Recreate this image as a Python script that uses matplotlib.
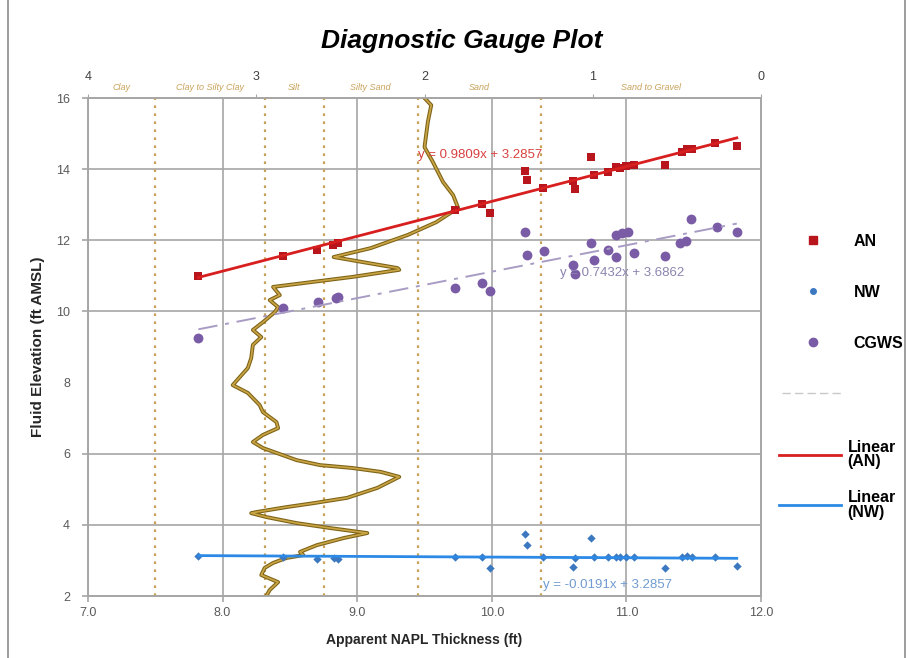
import numpy as np
import matplotlib.pyplot as plt
from matplotlib.lines import Line2D
from matplotlib.patches import Rectangle
from matplotlib.ticker import FormatStrFormatter

plt.rcParams["font.family"] = ["Liberation Sans", "DejaVu Sans"]

# gauge readings: apparent NAPL thickness (ft) against fluid elevation (ft AMSL)
an_thk = [7.82, 8.45, 8.70, 8.82, 8.86, 9.73, 9.93, 9.99, 10.25, 10.26, 10.38, 10.60, 10.62,
          10.74, 10.76, 10.86, 10.92, 10.95, 11.00, 11.06, 11.29, 11.41, 11.45, 11.49, 11.66, 11.82]
an_elev = [11.00, 11.56, 11.73, 11.87, 11.92, 12.85, 13.02, 12.77, 13.95, 13.70, 13.47, 13.67, 13.44,
           14.34, 13.84, 13.92, 14.06, 14.03, 14.09, 14.12, 14.12, 14.48, 14.57, 14.57, 14.74, 14.65]

nw_thk = [7.82, 8.45, 8.70, 8.83, 8.86, 9.73, 9.93, 9.99, 10.25, 10.26, 10.38, 10.60, 10.62,
          10.74, 10.76, 10.86, 10.92, 10.95, 11.00, 11.06, 11.29, 11.41, 11.45, 11.49, 11.66, 11.82]
nw_elev = [3.13, 3.10, 3.04, 3.07, 3.05, 3.10, 3.09, 2.80, 3.73, 3.43, 3.10, 2.82, 3.08,
           3.64, 3.10, 3.10, 3.10, 3.10, 3.10, 3.09, 2.80, 3.10, 3.12, 3.10, 3.09, 2.83]

cgws_thk = [7.82, 8.45, 8.71, 8.84, 8.86, 9.73, 9.93, 9.99, 10.25, 10.26, 10.39, 10.60, 10.62, 10.74,
            10.76, 10.86, 10.92, 10.92, 10.97, 11.01, 11.06, 11.29, 11.40, 11.44, 11.48, 11.67, 11.82]
cgws_elev = [9.25, 10.10, 10.27, 10.38, 10.40, 10.65, 10.80, 10.57, 12.23, 11.59, 11.70, 11.31, 11.05, 11.92,
             11.45, 11.73, 11.53, 12.15, 12.21, 12.23, 11.64, 11.56, 11.92, 11.98, 12.60, 12.37, 12.23]

# linear trendlines (slope, intercept)
an_fit = (0.9809, 3.2857)
cgws_fit = (0.7432, 3.6862)
nw_fit = (-0.0191, 3.2857)

# soil behaviour log, on the grain-size index of the top axis
log_idx = [2.00, 1.96, 1.98, 2.00, 1.95, 1.89, 1.83, 1.80, 1.93, 2.10, 2.32, 2.54, 2.37, 2.16,
           2.15, 2.43, 2.90, 2.86, 2.92, 2.87, 2.89, 2.96, 3.02, 2.97, 3.02, 3.03, 3.05, 3.14,
           3.05, 2.98, 2.96, 2.88, 2.87, 2.96, 3.02, 2.96, 2.76, 2.62, 2.43, 2.26, 2.15, 2.28,
           2.46, 2.66, 2.82, 3.00, 3.03, 2.94, 2.76, 2.56, 2.34, 2.48, 2.64, 2.74, 2.72, 2.82,
           2.90, 2.95, 2.97, 2.87, 2.92, 2.94]
log_elev = [16.00, 15.80, 15.33, 14.62, 14.20, 13.64, 13.27, 12.91, 12.51, 12.15, 11.78, 11.53, 11.39, 11.22,
            11.17, 10.97, 10.69, 10.46, 10.32, 10.12, 9.98, 9.70, 9.48, 9.28, 9.06, 8.69, 8.41, 7.93,
            7.71, 7.37, 7.17, 6.89, 6.72, 6.53, 6.33, 6.16, 5.82, 5.68, 5.60, 5.49, 5.35, 5.04,
            4.76, 4.61, 4.50, 4.36, 4.33, 4.22, 4.05, 3.91, 3.77, 3.63, 3.43, 3.24, 3.15, 3.07,
            2.93, 2.79, 2.59, 2.39, 2.17, 2.00]

soil_breaks = [3.60, 2.95, 2.60, 2.04, 1.31]
soil_names = ["Clay", "Clay to Silty Clay", "Silt", "Silty Sand", "Sand", "Sand to Gravel"]
idx_ticks = [4, 3, 2, 1, 0]

AN_C = "#B8161C"
AN_LINE = "#D81F1F"
NW_C = "#3C78C0"
NW_LINE = "#2C8AE6"
CG_C = "#7A5BA6"
CG_LINE = "#A89CC4"
SOIL = "#C9A25A"
GRID = "#A6A6A6"
TICK = "#595959"

fig = plt.figure(figsize=(9.09, 6.58), dpi=100)
fig.patch.set_facecolor("white")
ax = fig.add_axes([0.0968, 0.0942, 0.7404, 0.7568])
ax2 = ax.twiny()
ax.set_zorder(ax2.get_zorder() + 1)
ax.patch.set_visible(False)

ax.set_xlim(7, 12)
ax.set_ylim(2, 16)
ax2.set_xlim(4, 0)

# grid - no line at 8 ft
ax.set_xticks(np.arange(7, 12.5, 1.0))
ax.set_yticks(range(2, 17, 2))
ax.xaxis.set_major_formatter(FormatStrFormatter("%.1f"))
ax.grid(True, color=GRID, lw=1.2)
ax.set_axisbelow(True)
tk8 = ax.yaxis.get_major_ticks()[3]
tk8.gridline.set_visible(False)
tk8.tick1line.set_visible(False)

ax.tick_params(colors=TICK, labelsize=9, length=4, width=1.2)
ax.tick_params(axis="both", color=GRID)
ax.tick_params(axis="y", pad=9)
ax.tick_params(axis="x", pad=4)
for sp in list(ax.spines.values()) + list(ax2.spines.values()):
    sp.set_edgecolor(GRID)
    sp.set_linewidth(1.2)

# top axis: grain-size index with soil classes
ax2.set_xticks(idx_ticks)
ax2.tick_params(axis="x", labelsize=9, colors="#404040", color=GRID, length=3, pad=8)
bounds = [4] + soil_breaks + [0]
for lo, hi, name in zip(bounds[:-1], bounds[1:], soil_names):
    ax2.text((lo + hi) / 2, 1.012, name, transform=ax2.get_xaxis_transform(),
             ha="center", va="bottom", fontsize=6.5, fontstyle="italic", color=SOIL)
ax.vlines(soil_breaks, 0, 1, transform=ax2.get_xaxis_transform(), colors=SOIL,
          linestyles=(0, (1.2, 2.4)), lw=1.6, zorder=1)

# soil log trace
ax.plot(log_idx, log_elev, transform=ax2.transData, color="#7F6418", lw=2.8, zorder=2)
ax.plot(log_idx, log_elev, transform=ax2.transData, color="#C9A545", lw=1.2, zorder=2)
ax.set_xlim(7, 12)
ax.set_ylim(2, 16)

# gauge data
ax.scatter(cgws_thk, cgws_elev, marker="o", s=50, color=CG_C, lw=0, zorder=3)
ax.scatter(an_thk, an_elev, marker="s", s=38, color=AN_C, lw=0, zorder=4)
ax.scatter(nw_thk, nw_elev, marker="D", s=18, color=NW_C, lw=0, zorder=4)

# trendlines
for xs_src, (m, b), col, ls, lw in [
        (an_thk, an_fit, AN_LINE, "-", 2.0),
        (cgws_thk, cgws_fit, CG_LINE, (0, (10, 4, 2, 4)), 1.4),
        (nw_thk, nw_fit, NW_LINE, "-", 2.0)]:
    xs = np.array([min(xs_src), max(xs_src)])
    ax.plot(xs, m * xs + b, color=col, ls=ls, lw=lw, zorder=5)

ax.text(9.45, 14.40, f"y = {an_fit[0]:.4f}x + {an_fit[1]:.4f}", color="#D84040", fontsize=9.5,
        va="center", zorder=6)
ax.text(10.51, 11.08, f"y = {cgws_fit[0]:.4f}x + {cgws_fit[1]:.4f}", color="#8C84B0", fontsize=9.5,
        va="center", zorder=6)
ax.text(10.38, 2.31, f"y = {nw_fit[0]:.4f}x + {nw_fit[1]:.4f}", color="#6F9BD1", fontsize=9.5,
        va="center", zorder=6)

ax.set_xlabel("Apparent NAPL Thickness (ft)", fontsize=10, fontweight="bold", color="#262626",
              labelpad=10)
ax.set_ylabel("Fluid Elevation (ft AMSL)", fontsize=11, fontweight="bold", color="#262626",
              labelpad=8)
fig.text(462 / 909, 1 - 41 / 658, "Diagnostic Gauge Plot", ha="center", va="center",
         fontsize=19, fontweight="bold", fontstyle="italic")

# legend to the right of the plot
h1 = [Line2D([], [], ls="none", marker="s", ms=6, color=AN_C),
      Line2D([], [], ls="none", marker="o", ms=4, color=NW_C),
      Line2D([], [], ls="none", marker="o", ms=6, color=CG_C),
      Line2D([], [], ls=(0, (6, 3)), lw=1, color="#C8C8C8")]
leg1 = fig.legend(h1, ["AN", "NW", "CGWS", ""], loc="upper left",
                  bbox_to_anchor=(782 / 909, 1 - 234 / 658), frameon=False,
                  prop=dict(weight="bold", size=11.5), handlelength=3.9, handletextpad=0.6,
                  labelspacing=2.25, borderpad=0, borderaxespad=0)
h2 = [Line2D([], [], lw=2, color=AN_LINE), Line2D([], [], lw=2, color=NW_LINE)]
leg2 = fig.legend(h2, ["Linear\n(AN)", "Linear\n(NW)"], loc="upper left",
                  bbox_to_anchor=(779 / 909, 1 - 440 / 658), frameon=False,
                  prop=dict(weight="bold", size=11.5), handlelength=3.9, handletextpad=0.4,
                  labelspacing=1.3, borderpad=0, borderaxespad=0)
for t in leg2.get_texts():
    t.set_linespacing(0.95)

# outer frame
fig.add_artist(Rectangle((8 / 909, -0.01), 897 / 909, 1.02, transform=fig.transFigure,
                         fill=False, ec="#8C8C8C", lw=1.2))

fig.savefig("out.png", dpi=100, facecolor="white")
